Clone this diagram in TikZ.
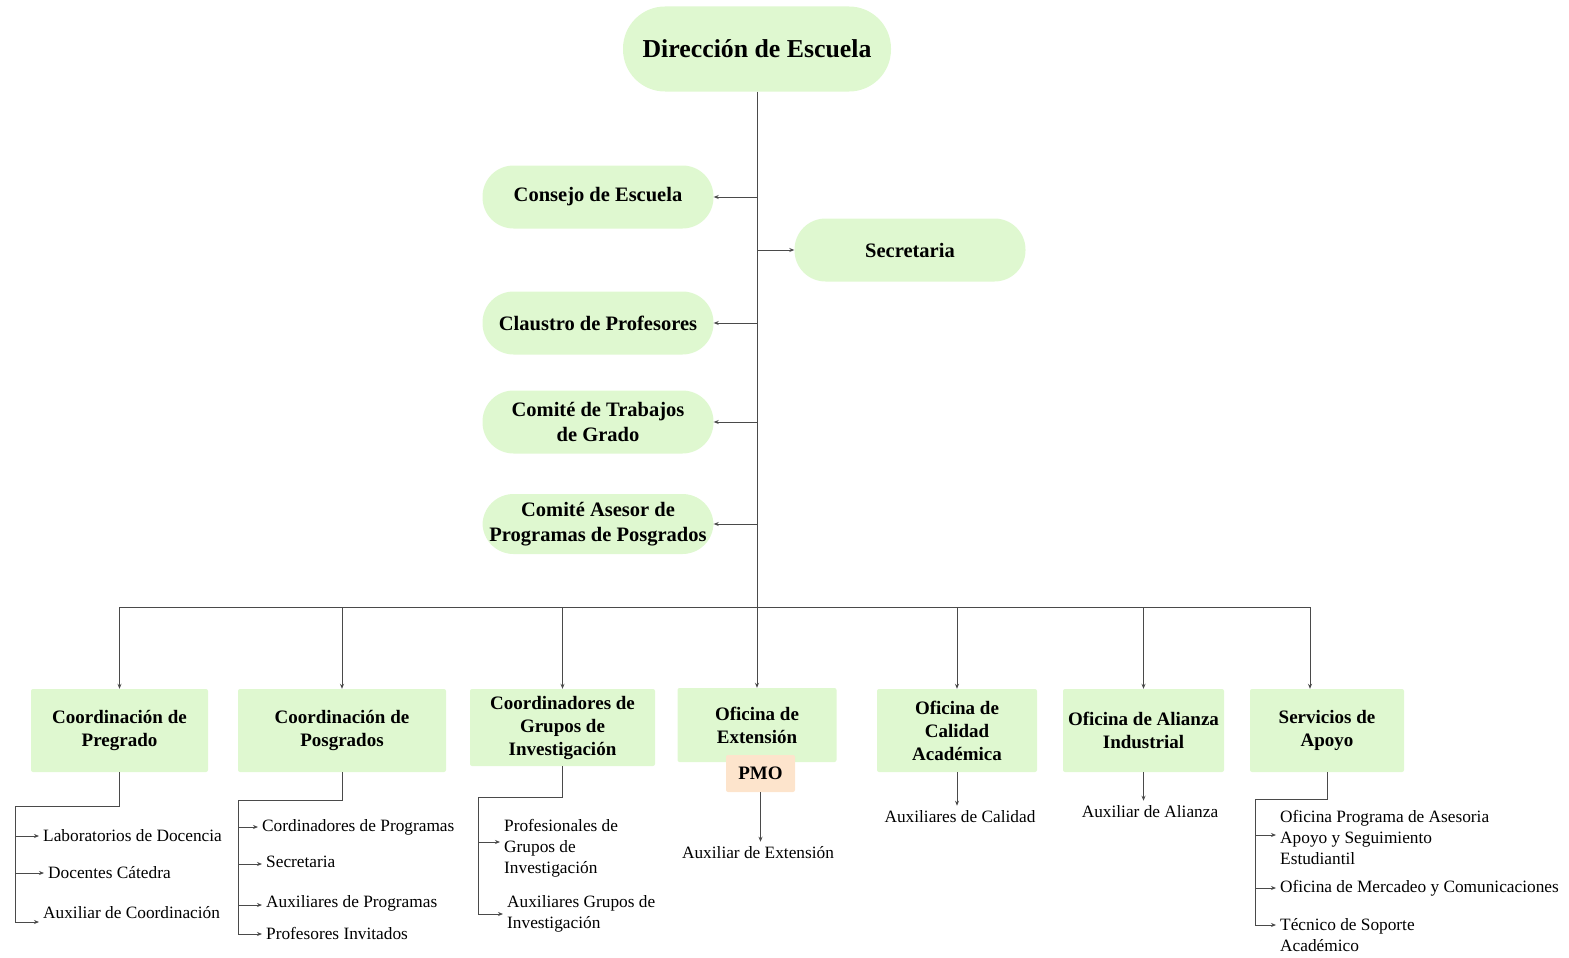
\documentclass[tikz,border=0pt]{standalone}
\usepackage{fontspec}
\setmainfont{Liberation Serif}
\usetikzlibrary{arrows.meta,calc}
\definecolor{paleg}{HTML}{DFF8D0}
\definecolor{palep}{HTML}{FDE4CC}
\definecolor{wire}{HTML}{4A4A4A}

\begin{document}
\begin{tikzpicture}[x=1pt,y=-1pt,
  oval/.style={fill=paleg, rounded corners=31pt, minimum width=231pt, minimum height=63pt,
    inner sep=0pt, align=center, font=\fontsize{20.5}{25}\selectfont\bfseries},
  unit/.style={fill=paleg, rounded corners=2pt, inner sep=0pt, align=center,
    font=\fontsize{19}{23}\selectfont\bfseries},
  item/.style={anchor=west, align=left, inner sep=0pt, font=\fontsize{17.3}{21}\selectfont},
  leaf/.style={align=center, inner sep=1pt, font=\fontsize{17.3}{21}\selectfont},
  link/.style={draw=wire, line width=0.8pt},
  arr/.style={link, -{Stealth[length=5pt,width=4pt]}},
  tip/.style={arr, shorten >=4pt},
]
\useasboundingbox (0,0) rectangle (1569,958);

% ---------- top level ----------
\node[oval, minimum width=268pt, minimum height=85pt, rounded corners=42pt,
      font=\fontsize{25.8}{30}\selectfont\bfseries] (dir) at (757,49) {Dirección de Escuela};

\node[oval] (consejo)  at (598,197) {Consejo de Escuela};
\node[oval] (secre)    at (910,250) {Secretaria};
\node[oval] (claustro) at (598,323) {Claustro de Profesores};
\node[oval] (trabajos) at (598,422) {Comité de Trabajos\\de Grado};
\node[oval, minimum height=60pt] (asesor) at (598,524) {Comité Asesor de\\Programas de Posgrados};

% ---------- units ----------
\node[unit, minimum width=177pt, minimum height=83pt] (preg) at (119.5,730.5) {Coordinación de\\Pregrado};
\node[unit, minimum width=208pt, minimum height=83pt] (posg) at (342,730.5) {Coordinación de\\Posgrados};
\node[unit, minimum width=185pt, minimum height=77pt] (grup) at (562.5,727.5) {Coordinadores de\\Grupos de\\Investigación};
\node[unit, minimum width=159pt, minimum height=74pt] (ext)  at (757,725) {Oficina de\\Extensión};
\node[unit, fill=palep, minimum width=69pt, minimum height=37pt] (pmo) at (760.5,773.5) {PMO};
\node[unit, minimum width=160pt, minimum height=83pt] (cal)  at (957,730.5) {Oficina de\\Calidad\\Académica};
\node[unit, minimum width=161pt, minimum height=83pt] (ali)  at (1143.5,730.5) {Oficina de Alianza\\Industrial};
\node[unit, minimum width=154pt, minimum height=83pt] (serv) at (1327,730.5) {Servicios de\\Apoyo};

% ---------- trunk and bus ----------
\coordinate (bus) at (757,607);
\coordinate (sdrop) at (1310,607);
\draw[arr] (dir.south) -- (ext.north);
\draw[arr] (bus |- consejo.east) -- (consejo.east);
\draw[arr] (bus |- secre.west) -- (secre.west);
\draw[arr] (bus |- claustro.east) -- (claustro.east);
\draw[arr] (bus |- trabajos.east) -- (trabajos.east);
\draw[arr] (bus |- asesor.east) -- (asesor.east);
\draw[link] (preg.north |- bus) -- (sdrop);
\draw[arr] (preg.north |- bus) -- (preg.north);
\draw[arr] (posg.north |- bus) -- (posg.north);
\draw[arr] (grup.north |- bus) -- (grup.north);
\draw[arr] (cal.north |- bus) -- (cal.north);
\draw[arr] (ali.north |- bus) -- (ali.north);
\draw[arr] (sdrop) -- (sdrop |- serv.north);

% ---------- Pregrado ----------
\node[item] (lab)  at (43,836) {Laboratorios de Docencia};
\node[item] (doc)  at (48,873) {Docentes Cátedra};
\node[item] (auxc) at (43,913) {Auxiliar de Coordinación};
\coordinate (pb) at (15,806);
\coordinate (pe) at (15,922);
\draw[link] (preg.south) |- (pb) -- (pe);
\draw[tip] (pb |- lab.west) -- (lab.west);
\draw[tip] (pb |- doc.west) -- (doc.west);
\draw[tip] (pe) -- ($(auxc.west)+(0,9)$);

% ---------- Posgrados ----------
\node[item] (cp)  at (262,827) {Cordinadores de Programas};
\node[item] (sc)  at (266,862) {Secretaria};
\node[item] (ap)  at (266,903) {Auxiliares de Programas};
\node[item] (pi)  at (266,933) {Profesores Invitados};
\coordinate (qb) at (238,800);
\coordinate (qe) at (238,934);
\draw[link] (posg.south) |- (qb) -- (qe);
\draw[tip] (qb |- cp.west) -- (cp.west);
\draw[tip] ($(qb |- sc.west)+(0,2)$) -- ($(sc.west)+(0,2)$);
\draw[tip] ($(qb |- ap.west)+(0,2)$) -- ($(ap.west)+(0,2)$);
\draw[tip] (qe) -- (qe -| pi.west);

% ---------- Grupos ----------
\node[item] (pg) at (504,848) {Profesionales de\\Grupos de\\Investigación};
\node[item] (ag) at (507,913.5) {Auxiliares Grupos de\\Investigación};
\coordinate (gb) at (478,797);
\coordinate (ge) at (478,914);
\draw[link] (grup.south) |- (gb) -- (ge);
\draw[tip] ($(gb |- pg.west)+(0,-6)$) -- ($(pg.west)+(0,-6)$);
\draw[tip] (ge) -- (ge -| ag.west);

% ---------- single leaves ----------
\node[leaf] (auxe)   at (758,853) {Auxiliar de Extensión};
\node[leaf] (auxcal) at (960,817) {Auxiliares de Calidad};
\node[leaf] (auxali) at (1150,812) {Auxiliar de Alianza};
\draw[arr, shorten >=4pt] (pmo.south) -- (pmo.south |- auxe.north);
\draw[arr, shorten >=4pt] (cal.south) -- (cal.south |- auxcal.north);
\draw[arr, shorten >=4pt] (ali.south) -- (ali.south |- auxali.north);

% ---------- Servicios ----------
\node[item] (op)  at (1280,837) {Oficina Programa de Asesoria\\Apoyo y Seguimiento\\Estudiantil};
\node[item] (om)  at (1280,888) {Oficina de Mercadeo y Comunicaciones};
\node[item] (tec) at (1280,935.5) {Técnico de Soporte\\Académico};
\coordinate (sb) at (1255,799);
\coordinate (se) at (1255,925);
\draw[link] (serv.south) |- (sb) -- (se);
\draw[tip] ($(sb |- op.west)+(0,-2)$) -- ($(op.west)+(0,-2)$);
\draw[tip] (sb |- om.west) -- (om.west);
\draw[tip] (se) -- (se -| tec.west);
\end{tikzpicture}
\end{document}
